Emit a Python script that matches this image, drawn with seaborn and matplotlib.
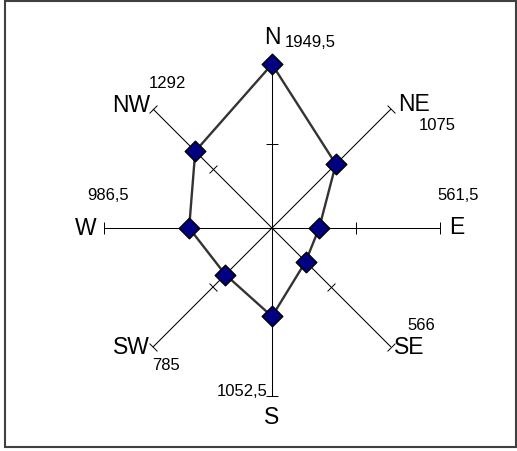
import numpy as np
import pandas as pd
import matplotlib
matplotlib.use("Agg")
import matplotlib.pyplot as plt
from matplotlib.markers import MarkerStyle
from matplotlib.transforms import Affine2D
from matplotlib.patches import Rectangle
import seaborn as sns

# ---- data ----
directions = ["N", "NE", "E", "SE", "S", "SW", "W", "NW"]
values = [1949.5, 1075, 561.5, 566, 1052.5, 785, 986.5, 1292]
value_labels = ["1949,5", "1075", "561,5", "566", "1052,5", "785", "986,5", "1292"]
axis_max = 2000
axis_mid = 1000

sns.set_theme(style="white")
plt.rcParams["font.family"] = ["Liberation Sans", "DejaVu Sans"]

W, H, DPI = 517, 451, 100
fig = plt.figure(figsize=(W / DPI, H / DPI), dpi=DPI)

cx, cy, R = 272, 228, 168
ax = fig.add_axes([(cx - R) / W, (H - cy - R) / H, 2 * R / W, 2 * R / H], projection="polar")
ax.set_theta_zero_location("N")
ax.set_theta_direction(-1)
ax.set_ylim(0, axis_max)
ax.grid(False)
ax.set_xticks([])
ax.set_yticks([])
ax.spines["polar"].set_visible(False)
ax.patch.set_alpha(0)

bearings = np.arange(len(directions)) * 45.0
thetas = np.deg2rad(bearings)

# axes lines with ticks (tick = short line marker perpendicular to the axis)
tick_path = [(-1.0, 0.0), (1.0, 0.0)]
for b, t in zip(bearings, thetas):
    ax.plot([t, t], [0, axis_max], color="black", lw=0.75, zorder=1, clip_on=False)
    ms = MarkerStyle(tick_path, transform=Affine2D().rotate_deg(-b))
    ax.plot([t, t], [axis_mid, axis_max], linestyle="none", marker=ms,
            markersize=8, markeredgewidth=0.7, markeredgecolor="black",
            markerfacecolor="none", zorder=1, snap=True, clip_on=False)

df = pd.DataFrame({"theta": list(thetas) + [thetas[0]],
                   "value": values + [values[0]]})
sns.lineplot(data=df, x="theta", y="value", sort=False, estimator=None,
             color="#333333", lw=1.7, ax=ax, zorder=2)
sns.scatterplot(x=thetas, y=values, marker="D", s=110, color="#000080",
                edgecolor="black", linewidth=1.0, ax=ax, zorder=3, clip_on=False)
ax.set_xlabel("")
ax.set_ylabel("")
ax.set_ylim(0, axis_max)

# labels: (dx, dy, ha) offsets in pixels from axis end
dir_off = [(0, 23, "center"), (7, 5, "left"), (9, 0, "left"), (3, -1, "left"),
           (0, -22, "center"), (-3, -1, "right"), (-7, 0, "right"), (-3, 4, "right")]
val_off = [(13, 18, "left"), (28, -16, "left"), (-3, 33, "left"), (17, 21, "left"),
           (-4, 4, "right"), (-1, -19, "left"), (-17, 33, "left"), (-4, 26, "left")]

for t, d, v, (dx, dy, ha), (vx, vy, vha) in zip(thetas, directions, value_labels, dir_off, val_off):
    ax.annotate(d, xy=(t, axis_max), xytext=(dx, dy), textcoords="offset pixels",
                ha=ha, va="center", fontsize=16.5, color="black", annotation_clip=False)
    ax.annotate(v, xy=(t, axis_max), xytext=(vx, vy), textcoords="offset pixels",
                ha=vha, va="center", fontsize=12, color="black", annotation_clip=False)

fig.patches.append(Rectangle((5 / W, (H - 447) / H), (516 - 5) / W, (447 - 1) / H,
                             transform=fig.transFigure, fill=False,
                             edgecolor="#404040", lw=1.5))

fig.savefig("out.png", dpi=DPI)
